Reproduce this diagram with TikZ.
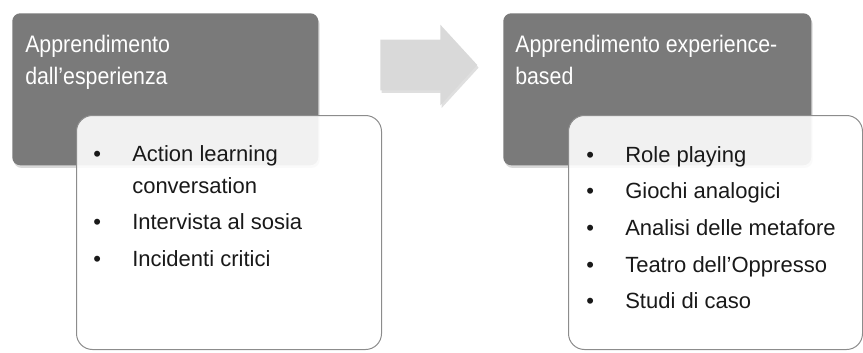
\documentclass[tikz,border=0pt]{standalone}
\usepackage{fontspec}
\setmainfont{Liberation Sans}
\usetikzlibrary{positioning,shapes.arrows,shadows}
\newlength\pix
\setlength\pix{0.75pt}
\definecolor{boxgrey}{RGB}{122,122,122}
\definecolor{arrowgrey}{RGB}{217,217,217}
\definecolor{edgegrey}{RGB}{140,140,140}

\begin{document}
\begin{tikzpicture}[x=\pix, y=-\pix, inner sep=0pt,
    grey node/.style={rectangle,rounded corners=8\pix,fill=boxgrey,minimum height=152\pix,anchor=north west,
                      drop shadow={shadow xshift=1pt,shadow yshift=-2pt,opacity=.3}},
    list node/.style={rectangle,rounded corners=16\pix,draw=edgegrey,line width=1\pix,fill=white,fill opacity=.9,
                      minimum height=234\pix,anchor=north west},
    head text/.style={anchor=base west,text=white,yscale=1.12,font=\fontsize{16}{21.4}\selectfont},
    item text/.style={anchor=base west,text=black!90,font=\fontsize{16.5}{24}\selectfont}]

  \useasboundingbox (0,0) rectangle (863,353);

  \node[grey node,minimum width=306\pix] (1) at (12,13) {};
  \node[list node,minimum width=305\pix] (2) at (76,115) {};
  \node[single arrow,anchor=tail,fill=arrowgrey,minimum height=97\pix,inner ysep=25\pix,
        single arrow head extend=15\pix,single arrow tip angle=95,
        drop shadow={shadow xshift=1pt,shadow yshift=-2pt,opacity=.25}] (3) at (380,65) {};
  \node[grey node,minimum width=308\pix] (4) at (503,13) {};
  \node[list node,minimum width=294\pix] (5) at (568,115) {};

  % titles
  \node[head text] (1a) at ([shift={(13,40)}]1.north west)
    {\begin{tabular}[t]{@{}l@{}}Apprendimento\\dall’esperienza\end{tabular}};
  \node[head text] (4a) at ([shift={(12,40)}]4.north west)
    {\begin{tabular}[t]{@{}l@{}}Apprendimento experience-\\based\end{tabular}};

  % lists
  \node[item text] (2a) at ([shift={(17,46)}]2.north west)
    {\begin{tabular}[t]{@{}p{39\pix}@{}l@{}}
      \textbullet & Action learning\\
                  & conversation\\[3.5pt]
      \textbullet & Intervista al sosia\\[3.5pt]
      \textbullet & Incidenti critici
    \end{tabular}};
  \node[item text] (5a) at ([shift={(18,47)}]5.north west)
    {\begin{tabular}[t]{@{}p{39\pix}@{}l@{}}
      \textbullet & Role playing\\[3.5pt]
      \textbullet & Giochi analogici\\[3.5pt]
      \textbullet & Analisi delle metafore\\[3.5pt]
      \textbullet & Teatro dell’Oppresso\\[3.5pt]
      \textbullet & Studi di caso
    \end{tabular}};

\end{tikzpicture}
\end{document}
